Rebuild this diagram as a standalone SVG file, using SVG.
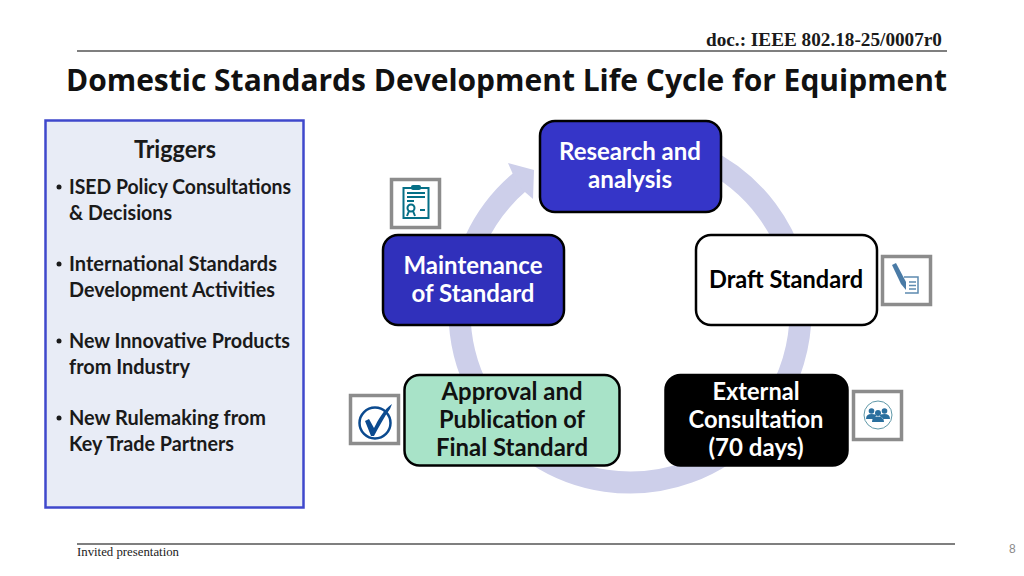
<svg xmlns="http://www.w3.org/2000/svg" width="1024" height="576" viewBox="0 0 1024 576">
<style>
.b{font-family:"Lato","Open Sans","Liberation Sans",sans-serif;font-weight:700}
.n{font-size:24px;text-anchor:middle}
.t{font-size:21px;fill:#1a1a1a}
.box{stroke:#000;stroke-width:2.5}
.frame{fill:#fff;stroke:#8c8c8c;stroke-width:3.5}
.s{font-family:"Liberation Serif",serif}
</style>
<rect width="1024" height="576" fill="#fff"/>
<g id="header">
<text class="s" x="706" y="46" font-size="18" font-weight="700" fill="#1a1a1a" textLength="236" lengthAdjust="spacingAndGlyphs">doc.: IEEE 802.18-25/0007r0</text>
<line x1="77" y1="51" x2="947" y2="51" stroke="#555" stroke-width="1.500"/>
<text x="66" y="91" font-family="Open Sans, sans-serif" font-size="30" font-weight="700" fill="#111" textLength="881" lengthAdjust="spacingAndGlyphs">Domestic Standards Development Life Cycle for Equipment</text>
</g>
<g id="triggers">
<rect x="45.500" y="120.500" width="258" height="387" fill="#e8ecf6" stroke="#3f48cc" stroke-width="2.500"/>
<text class="b" x="175" y="158" font-size="24" text-anchor="middle" fill="#1a1a1a" textLength="82" lengthAdjust="spacingAndGlyphs">Triggers</text>
<g fill="#1a1a1a"><circle cx="59" cy="187" r="2.500"/><circle cx="59" cy="264" r="2.500"/><circle cx="59" cy="341" r="2.500"/><circle cx="59" cy="418" r="2.500"/></g>
<text class="b t" x="69" y="194" textLength="222" lengthAdjust="spacingAndGlyphs">ISED Policy Consultations</text>
<text class="b t" x="69" y="220" textLength="103" lengthAdjust="spacingAndGlyphs">&amp; Decisions</text>
<text class="b t" x="69" y="271" textLength="208" lengthAdjust="spacingAndGlyphs">International Standards</text>
<text class="b t" x="69" y="297" textLength="206" lengthAdjust="spacingAndGlyphs">Development Activities</text>
<text class="b t" x="69" y="348" textLength="221" lengthAdjust="spacingAndGlyphs">New Innovative Products</text>
<text class="b t" x="69" y="374" textLength="121" lengthAdjust="spacingAndGlyphs">from Industry</text>
<text class="b t" x="69" y="425" textLength="197" lengthAdjust="spacingAndGlyphs">New Rulemaking from</text>
<text class="b t" x="69" y="451" textLength="165" lengthAdjust="spacingAndGlyphs">Key Trade Partners</text>
</g>
<g id="connectors">
<path d="M 630 141.500 A 170.500 170.500 0 1 1 520.400 181.400" fill="none" stroke="#cdcfea" stroke-width="22"/>
<polygon points="508,163 534,170 533,199 518,186" fill="#cdcfea"/>
</g>
<g id="research"><rect class="box" x="540" y="121" width="181" height="91" rx="15" fill="#3535c8"/>
<text class="b n" x="630" y="160" fill="#fff" textLength="142" lengthAdjust="spacingAndGlyphs">Research and</text>
<text class="b n" x="630" y="188" fill="#fff" textLength="84" lengthAdjust="spacingAndGlyphs">analysis</text></g>
<g id="maintenance"><rect class="box" x="383" y="235" width="181" height="90" rx="15" fill="#3030bb"/>
<text class="b n" x="473" y="274" fill="#fff" textLength="139" lengthAdjust="spacingAndGlyphs">Maintenance</text>
<text class="b n" x="473" y="302" fill="#fff" textLength="123" lengthAdjust="spacingAndGlyphs">of Standard</text></g>
<g id="draft"><rect class="box" x="696" y="235" width="181" height="90" rx="15" fill="#fff"/>
<text class="b n" x="786" y="288" fill="#000" textLength="154" lengthAdjust="spacingAndGlyphs">Draft Standard</text></g>
<g id="external"><rect class="box" x="665.500" y="375" width="182" height="90.500" rx="15" fill="#000"/>
<text class="b n" x="756" y="400" fill="#fff" textLength="87" lengthAdjust="spacingAndGlyphs">External</text>
<text class="b n" x="756" y="428" fill="#fff" textLength="135" lengthAdjust="spacingAndGlyphs">Consultation</text>
<text class="b n" x="756" y="456" fill="#fff" textLength="95" lengthAdjust="spacingAndGlyphs">(70 days)</text></g>
<g id="approval"><rect class="box" x="404.500" y="375" width="215" height="90.500" rx="15" fill="#a8e3c8"/>
<text class="b n" x="512" y="400" fill="#111" textLength="141" lengthAdjust="spacingAndGlyphs">Approval and</text>
<text class="b n" x="512" y="428" fill="#111" textLength="146" lengthAdjust="spacingAndGlyphs">Publication of</text>
<text class="b n" x="512" y="456" fill="#111" textLength="152" lengthAdjust="spacingAndGlyphs">Final Standard</text></g>
<g id="icon-clipboard"><rect class="frame" x="391.500" y="179.500" width="48" height="48"/>
<g fill="none" stroke="#056f86" stroke-width="2"><rect x="403.500" y="188" width="25" height="30"/><path d="M407 193H425M407 197H425M407 201H414M420 210H425"/><circle cx="411" cy="208" r="3.500"/><path d="M409 211L407 216M413 211L415 216"/></g>
<rect x="411" y="185" width="10" height="5" rx="2" fill="#056f86"/></g>
<g id="icon-pen"><rect class="frame" x="882.500" y="256.500" width="48" height="48"/>
<path d="M892 265L896 263L906 282L906 290L901 284Z" fill="#4a7ba6"/>
<path d="M904 277H918V293H905" fill="none" stroke="#5d8bb0" stroke-width="1.500"/>
<path d="M909 282H916M909 285.500H916M909 289H916" stroke="#5d8bb0" stroke-width="1.500"/></g>
<g id="icon-check"><rect class="frame" x="350.500" y="395.500" width="48" height="48"/>
<circle cx="375" cy="423" r="15.500" fill="none" stroke="#0b4a8f" stroke-width="2.500"/>
<path d="M365 421L369 419L374 428C378 420 384 409 392 404L390 409C384 417 379 427 374 436H371Z" fill="#0b4a8f"/></g>
<g id="icon-people"><rect class="frame" x="853.500" y="391.500" width="48" height="48"/>
<circle cx="878" cy="415" r="14" fill="#fff" stroke="#5f98a8" stroke-width="1"/>
<g fill="#2a6f9e"><circle cx="871.500" cy="411" r="2.800"/><circle cx="884.500" cy="411" r="2.800"/><circle cx="878" cy="413" r="3"/><path d="M866 419Q866 414 871.500 414T876 416L873 419ZM890 419Q890 414 884.500 414T880 416L883 419ZM872 422Q872 416.500 878 416.500T884 422Z"/></g></g>
<g id="footer">
<line x1="77" y1="544" x2="955" y2="544" stroke="#555" stroke-width="1.500"/>
<text class="s" x="77" y="556" font-size="12" fill="#222" textLength="102" lengthAdjust="spacingAndGlyphs">Invited presentation</text>
<text x="1009" y="553" font-family="Liberation Sans, sans-serif" font-size="12" fill="#8a8a8a">8</text>
</g>
</svg>
